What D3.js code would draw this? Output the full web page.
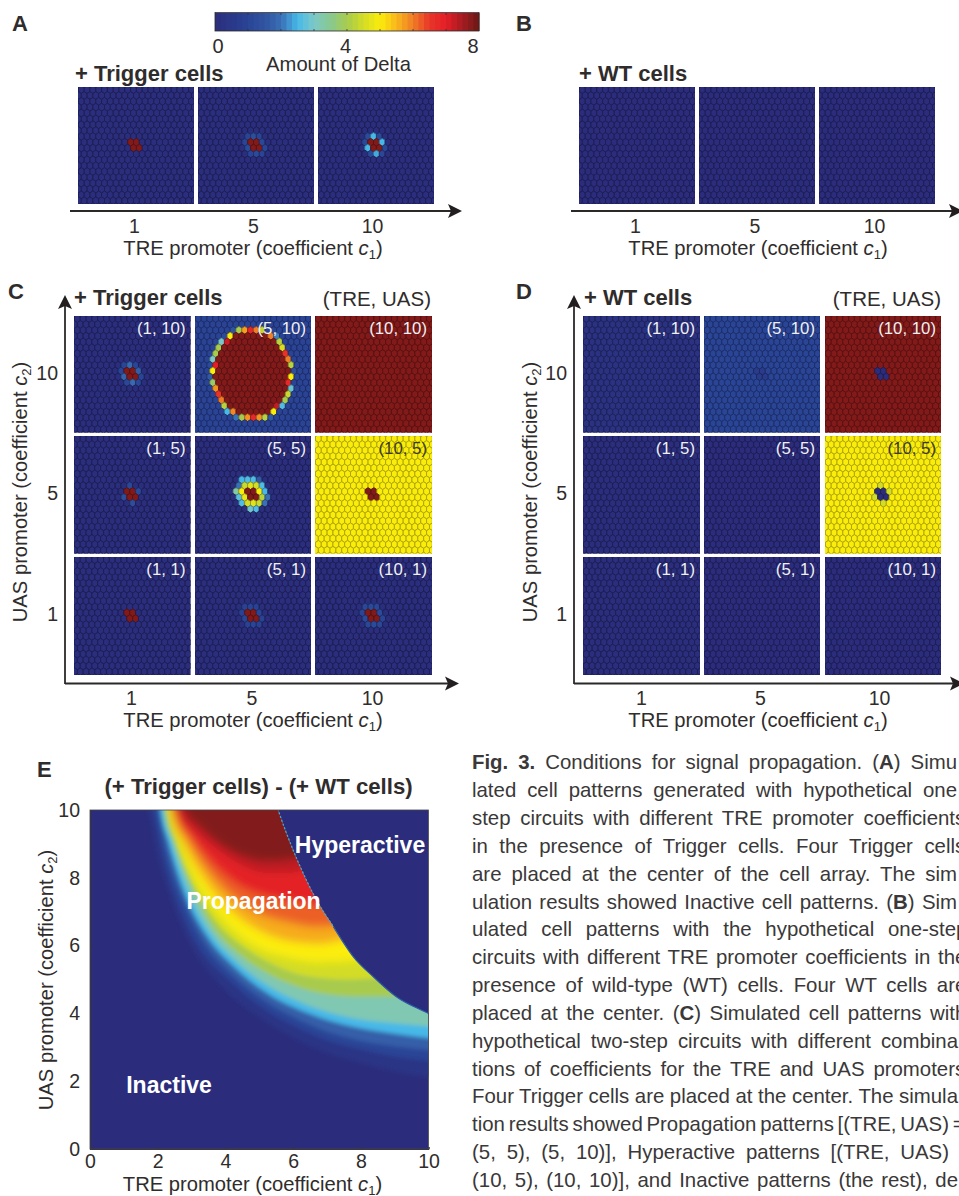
<!DOCTYPE html>
<html>
<head>
<meta charset="utf-8">
<script src="https://cdn.jsdelivr.net/npm/d3@7"></script>
<style>
html, body { margin: 0; padding: 0; background: #fff; overflow: hidden; }
svg { display: block; }
text { font-family: "Liberation Sans", Arial, sans-serif; fill: #2f2c2c; }
</style>
</head>
<body>
<svg id="fig" width="959" height="1196"></svg>
<script>
// colour bar stops
const deltaStops = [0, 1, 1.5, 2, 2.5, 3, 3.5, 4, 4.5, 5, 5.5, 6, 6.5, 7, 7.5, 8];
const deltaColors = ["#2b2d7c", "#2a4496", "#30539f", "#3a70b5", "#47b8e8", "#7cc8c9", "#87c98f", "#a8cb4e",
    "#d3dc26", "#fbed0b", "#f8b61d", "#ef7d25", "#e8362a", "#e31e26", "#a51d21", "#6a1815"];
const barTicks = [0, 4, 8];

const tre = ["1", "5", "10"];
const uas = ["10", "5", "1"];

// cell values, as [row, column, amount]
const triggerCells = [[9, 9], [9, 10], [10, 9], [10, 10]];
const a5Ring = [[8,8,1],[8,9,1.3],[8,10,1],[9,8,1],[9,11,1.1],[10,8,1.2],[10,11,1],[11,9,1],[11,10,1.2],[11,11,1]];
const a10Ring = [[8,8,1.2],[8,9,2.5],[8,10,1.2],[9,8,1.1],[9,11,2.5],[10,8,2.5],[10,11,1.1],[11,9,1.2],[11,10,2.4],[11,11,1.1]];
const c1x10Ring = [[8,8,1],[8,9,1.9],[8,10,1],[9,8,1],[9,11,1.7],[10,8,1.8],[10,11,1],[11,9,1.1],[11,10,1.9],[11,11,1.1]];
const c1x5Ring = [[8,9,1.1],[9,11,1.2],[10,8,1.3],[11,10,1.3]];
const c5x1Ring = [[8,8,.9],[8,9,1],[8,10,.9],[9,8,.9],[9,11,1],[10,8,1],[10,11,.9],[11,9,.9],[11,10,1],[11,11,.9]];
const c10x1Ring = [[8,8,1.1],[8,9,1.2],[8,10,1.1],[9,8,1],[9,11,1.2],[10,8,1.2],[10,11,1],[11,9,1.1],[11,10,1.2],[11,11,1.1]];
const c5x5Ring = [[8,8,4.4],[8,9,4.7],[8,10,4.5],[9,8,5],[9,11,5],[10,8,4.8],[10,11,4.2],[11,9,4.5],[11,10,4.7],[11,11,4.4],
    [7,8,2.5],[7,9,2.6],[7,10,2.6],[7,11,1.6],[8,7,2],[8,11,2.6],[9,7,3.3],[9,12,2.5],[10,7,2.7],[10,12,2],[11,8,2.6],[11,12,2],[12,9,2.9],[12,10,2.6]];
const d10x5Ring = [[8,9,4.5],[9,11,4.5],[10,8,4.5],[11,10,4.5]];
const c5x10Front = [[2,6,1.5],[2,7,4],[2,8,5.7],[2,9,6.8],[2,10,6],[2,11,4.3],[3,5,1.2],[3,6,5],[3,13,6],[3,14,2.1],
    [4,4,3],[4,5,7.2],[4,14,4.2],[5,4,4],[5,15,4.6],[6,3,4],[6,15,6.6],[7,3,3],[7,16,6],[8,2,1.2],[8,3,7],[8,16,4.2],
    [9,3,5],[9,17,1.3],[10,2,1.6],[10,16,5],[11,3,3.8],[11,16,6.8],[12,3,5.8],[12,16,2.8],[13,4,6.6],[13,16,4.4],
    [14,4,6],[14,15,4],[15,5,4.2],[15,14,7.3],[15,15,2.6],[16,5,2.5],[16,6,5.9],[16,13,5],[17,7,2],[17,8,4],[17,9,5.8],[17,10,6.8],[17,11,5.8],[17,12,4.2],[17,13,1.6]];
// [row, first column, last column] of the dark red inside of the (5, 10) ring
const c5x10Inside = [[3,7,12],[4,6,13],[5,5,14],[6,4,14],[7,4,15],[8,4,15],[9,4,16],[10,3,15],[11,4,15],[12,4,15],[13,5,15],[14,5,14],[15,6,13],[16,7,12]];

const triggerAmount = 7.8;
const panelsC = [
    { label: "(1, 10)", bg: .05, cells: c1x10Ring, cluster: triggerAmount },
    { label: "(5, 10)", bg: .95, inside: c5x10Inside, cells: c5x10Front },
    { label: "(10, 10)", bg: 7.8 },
    { label: "(1, 5)", bg: .05, cells: c1x5Ring, cluster: triggerAmount },
    { label: "(5, 5)", bg: .05, cells: c5x5Ring, cluster: triggerAmount },
    { label: "(10, 5)", bg: 5, cluster: triggerAmount, dark: true },
    { label: "(1, 1)", bg: .05, cluster: triggerAmount },
    { label: "(5, 1)", bg: .05, cells: c5x1Ring, cluster: triggerAmount },
    { label: "(10, 1)", bg: .05, cells: c10x1Ring, cluster: triggerAmount }
];
const panelsD = [
    { label: "(1, 10)", bg: .2 },
    { label: "(5, 10)", bg: 1, cluster: .6 },
    { label: "(10, 10)", bg: 7.8, cluster: 0 },
    { label: "(1, 5)", bg: .05 },
    { label: "(5, 5)", bg: 0 },
    { label: "(10, 5)", bg: 5, cells: d10x5Ring, cluster: 0, dark: true },
    { label: "(1, 1)", bg: .05 },
    { label: "(5, 1)", bg: 0 },
    { label: "(10, 1)", bg: 0 }
];
const panelsA = [
    { bg: .05, cluster: triggerAmount },
    { bg: .05, cells: a5Ring, cluster: triggerAmount },
    { bg: .05, cells: a10Ring, cluster: triggerAmount }
];
const panelsB = [{ bg: 0 }, { bg: 0 }, { bg: 0 }];

// panel E: upper border of the coloured zone and contour lines, as [c1, c2]
const heatEdge = [[5.4,10.5],[5.56,10],[6,8.82],[6.3,8.13],[6.69,7.35],[7.19,6.56],[7.78,5.67],[8.37,5.08],[9.05,4.49],[10,4],[10.2,3.9]];
const heatLevels = [.4, 1, 1.7, 2.5, 3.2, 4, 4.5, 5, 5.6, 6.2, 6.9, 7.3, 7.8];
const heatContours = [
    [[1.55,10.5],[1.72,10],[2,8.7],[2.5,7.1],[3,6],[4,4.7],[5,3.9],[6,3.3],[7,2.85],[8,2.55],[9,2.3],[10.2,2.1]],
    [[1.75,10.5],[1.87,10],[2.2,8.5],[2.7,7],[3.2,6],[4.2,4.9],[5.2,4.1],[6.2,3.55],[7.2,3.15],[8.2,2.9],[9.2,2.7],[10.2,2.6]],
    [[1.93,10.5],[2,10],[2.25,8.8],[2.8,7.2],[3.3,6.2],[4.2,5.15],[5.2,4.35],[6.2,3.8],[7.2,3.4],[8.2,3.15],[9.2,3],[10.2,2.9]],
    [[2.02,10.5],[2.08,10],[2.3,9.1],[2.85,7.4],[3.44,6.3],[4.23,5.4],[5.2,4.62],[6.4,4.02],[7.8,3.6],[9,3.4],[10.2,3.25]],
    [[2.12,10.5],[2.17,10],[2.4,9.1],[2.95,7.5],[3.5,6.45],[4.3,5.55],[5.2,4.85],[6.4,4.25],[7.8,3.85],[9,3.7],[10.2,3.6]],
    [[2.2,10.5],[2.25,10],[2.5,9.1],[3.05,7.65],[3.6,6.6],[4.4,5.75],[5.3,5.15],[6.4,4.7],[7.8,4.5],[9,4.5],[10.2,4.6]],
    [[2.22,10.5],[2.3,10],[2.55,9.1],[3.1,7.75],[3.7,6.75],[4.5,6],[5.4,5.45],[6.4,5.1],[7.6,5],[9,5.1],[10.2,5.3]],
    [[2.27,10.5],[2.33,10],[2.66,9],[3.25,7.7],[3.85,6.85],[4.82,6],[5.8,5.65],[6.8,5.5],[7.8,5.55],[10.2,6]],
    [[2.33,10.5],[2.38,10],[2.8,8.95],[3.45,7.85],[4.1,7.1],[5,6.45],[5.8,6.15],[6.8,6.05],[7.4,6.15],[10.2,7]],
    [[2.4,10.5],[2.45,10],[2.9,9.1],[3.5,8.2],[4.2,7.45],[5,6.95],[5.8,6.7],[6.7,6.55],[7.4,6.6],[10.2,8]],
    [[2.47,10.5],[2.52,10],[3,9.2],[3.6,8.45],[4.3,7.85],[5.2,7.45],[6,7.3],[6.9,7.2],[10.2,8.5]],
    [[2.55,10.5],[2.6,10],[3.1,9.4],[3.75,8.85],[4.45,8.4],[5.2,8.15],[5.9,8.15],[6.5,8.3],[10.2,9.5]],
    [[2.75,10.5],[2.8,10],[3.2,9.55],[3.85,9],[4.5,8.65],[5.2,8.5],[5.9,8.55],[6.5,8.7],[10.2,10.5]]
];
const heatTicks = [0, 2, 4, 6, 8, 10];
const heatLabels = [["Hyperactive", 6.05, 8.72], ["Propagation", 2.85, 7.07], ["Inactive", 1.07, 1.65]];

// caption: visible part of each line, then the letter cut by the page edge
const captionLines = [
    "**Fig. 3.** Conditions for signal propagation. (**A**) Simu",
    "lated cell patterns generated with hypothetical one",
    "step circuits with different TRE promoter coefficient",
    "in the presence of Trigger cells. Four Trigger cell",
    "are placed at the center of the cell array. The sim",
    "ulation results showed Inactive cell patterns. (**B**) Sim",
    "ulated cell patterns with the hypothetical one-ste",
    "circuits with different TRE promoter coefficients in th",
    "presence of wild-type (WT) cells. Four WT cells ar",
    "placed at the center. (**C**) Simulated cell patterns wit",
    "hypothetical two-step circuits with different combina",
    "tions of coefficients for the TRE and UAS promoter",
    "Four Trigger cells are placed at the center. The simula",
    "tion results showed Propagation patterns [(TRE, UAS)",
    "(5, 5), (5, 10)], Hyperactive patterns [(TRE, UAS)",
    "(10, 5), (10, 10)], and Inactive patterns (the rest), de"
];
const captionCut = ["", "", "s", "s", "", "", "p", "e", "e", "h", "", "s", "", " =", " =", ""];
const captionEnds = [957, 957, 955, 955, 957, 957, 956, 955, 955, 955, 958, 955, 958, 949, 949, 958];

const svg = d3.select("#fig");
const defs = svg.append("defs");
const colorScale = d3.scaleLinear().domain(deltaStops).range(deltaColors).interpolate(d3.interpolateRgb).clamp(true);

function label(x, y, str, size, opts = {}) {
    return svg.append("text").attr("x", x).attr("y", y).attr("font-size", size)
        .attr("font-weight", opts.bold ? "bold" : null)
        .attr("text-anchor", opts.anchor || "start")
        .style("fill", opts.fill || null)
        .attr("transform", opts.rotate ? `rotate(${opts.rotate} ${x} ${y})` : null)
        .text(str);
}

function coefTitle(x, y, str, sub, opts = {}) {
    const t = label(x, y, str, 20.2, { anchor: "middle", rotate: opts.rotate });
    t.append("tspan").attr("font-style", "italic").text(" c");
    t.append("tspan").attr("font-size", 13).attr("dy", 4).text(sub);
    t.append("tspan").attr("dy", -4).text(")");
}

// ---- hexagon cell panels
const hexW = 5.8, hexH = 7.7;
const hexPath = d3.line()([[0, -hexH / 2], [hexW / 2, -hexH / 4], [hexW / 2, hexH / 4], [0, hexH / 2], [-hexW / 2, hexH / 4], [-hexW / 2, -hexH / 4]]) + "Z";
const rows = d3.range(-1, 21), cols = d3.range(-1, 21);
let clipCount = 0;

function drawPanel(p, x0, x1, y0, y1) {
    const xCell = d3.scaleLinear().domain([0, 20]).range([x0, x1]);
    const yCell = d3.scaleLinear().domain([0, 20]).range([y0, y1]);
    const amount = new Map();
    (p.inside || []).forEach(([r, from, to]) => d3.range(from, to + 1).forEach(c => amount.set(r + "," + c, triggerAmount)));
    (p.cells || []).forEach(([r, c, v]) => amount.set(r + "," + c, v));
    if (p.cluster !== undefined) triggerCells.forEach(([r, c]) => amount.set(r + "," + c, p.cluster));

    const id = "panel" + (clipCount++);
    defs.append("clipPath").attr("id", id).append("rect").attr("x", x0).attr("y", y0).attr("width", x1 - x0).attr("height", y1 - y0);
    const g = svg.append("g").attr("clip-path", `url(#${id})`);
    g.append("rect").attr("x", x0).attr("y", y0).attr("width", x1 - x0).attr("height", y1 - y0).attr("fill", d3.color(colorScale(p.bg)).darker(.45));

    const grid = d3.cross(rows, cols).map(([r, c]) => ({ r, c, v: amount.has(r + "," + c) ? amount.get(r + "," + c) : p.bg }));
    g.selectAll("path").data(grid).enter().append("path")
        .attr("d", hexPath)
        .attr("transform", d => `translate(${xCell(d.c + .07 + (d.r % 2 === 0 ? .5 : 0))},${yCell(d.r + .45)})`)
        .attr("fill", d => colorScale(d.v))
        .attr("stroke", d => d3.color(colorScale(d.v)).darker(1.1))
        .attr("stroke-width", .85);

    if (p.label) {
        label(x1 - 5, y0 + 17.7, p.label, 16.8, { anchor: "end", fill: p.dark ? "#3a3a2a" : "#f0f0f4" });
    }
}

function panelGrid(list, xs, ys) {
    list.forEach((p, i) => {
        const [xa, xb] = xs[i % 3];
        const [ya, yb] = ys[Math.floor(i / 3)];
        drawPanel(p, xa, xb, ya, yb);
    });
}

panelGrid(panelsA, [[78, 194], [198, 314], [318, 434]], [[87, 204]]);
panelGrid(panelsB, [[579, 695], [699, 815], [819, 935]], [[87, 204]]);
const rowsCD = [[316, 432.5], [436, 553.5], [557, 675]];
panelGrid(panelsC, [[74, 190.5], [195, 311], [315, 432]], rowsCD);
panelGrid(panelsD, [[583, 700], [704, 820], [825, 941]], rowsCD);

// ---- arrows and tick labels
function arrowX(x0, x1, y) {
    svg.append("line").attr("x1", x0).attr("x2", x1 - 10).attr("y1", y).attr("y2", y).attr("stroke", "#2b2828").attr("stroke-width", 1.8);
    svg.append("path").attr("d", d3.line()([[x1, y], [x1 - 14, y - 7], [x1 - 11, y], [x1 - 14, y + 7]]) + "Z").attr("fill", "#231f20");
}
function arrowY(x, y0, y1) {
    svg.append("line").attr("x1", x).attr("x2", x).attr("y1", y0).attr("y2", y1 + 10).attr("stroke", "#2b2828").attr("stroke-width", 1.8);
    svg.append("path").attr("d", d3.line()([[x, y1], [x - 7, y1 + 14], [x, y1 + 11], [x + 7, y1 + 14]]) + "Z").attr("fill", "#231f20");
}

function catAxis(scale, y) {
    const g = svg.append("g").attr("transform", `translate(0,${y})`).call(d3.axisBottom(scale).tickSize(0).tickPadding(0));
    g.select(".domain").remove();
    g.selectAll("text").attr("font-size", 19.5).attr("font-family", null).attr("dy", 0).attr("y", 0);
}
function catAxisY(scale, x) {
    const g = svg.append("g").attr("transform", `translate(${x},0)`).call(d3.axisLeft(scale).tickSize(0).tickPadding(0));
    g.select(".domain").remove();
    g.selectAll("text").attr("font-size", 19.5).attr("font-family", null).attr("x", 0);
}

arrowX(70, 462, 211);
arrowX(571, 963, 211);
catAxis(d3.scalePoint().domain(tre).range([134, 372]), 233);
catAxis(d3.scalePoint().domain(tre).range([635, 874]), 233);
coefTitle(253, 255, "TRE promoter (coefficient", "1");
coefTitle(758, 255, "TRE promoter (coefficient", "1");

arrowX(65, 459, 683.5);
arrowY(65, 684, 295);
arrowX(574, 964, 683.5);
arrowY(574, 684, 295);
catAxis(d3.scalePoint().domain(tre).range([131, 372]), 705);
catAxis(d3.scalePoint().domain(tre).range([641, 879]), 705);
catAxisY(d3.scalePoint().domain(uas).range([373, 614]), 58);
catAxisY(d3.scalePoint().domain(uas).range([373, 614]), 567);
coefTitle(253, 727, "TRE promoter (coefficient", "1");
coefTitle(758, 727, "TRE promoter (coefficient", "1");
coefTitle(27, 492, "UAS promoter (coefficient", "2", { rotate: -90 });
coefTitle(537, 492, "UAS promoter (coefficient", "2", { rotate: -90 });

// ---- colour bar
const barX = d3.scaleLinear().domain([0, 8]).range([215, 479]);
const barCells = d3.range(0, 8, 1 / 6);
svg.selectAll(".bar").data(barCells).enter().append("rect").attr("class", "bar")
    .attr("x", d => barX(d)).attr("y", 13).attr("width", barX(1 / 6) - barX(0) + .5).attr("height", 18)
    .attr("fill", d => colorScale(d + 1 / 12));
svg.append("rect").attr("x", 215).attr("y", 12.5).attr("width", 264).attr("height", 18.5).attr("fill", "none").attr("stroke", "#2b2828").attr("stroke-width", .8);
d3.range(1, 8).forEach(v => {
    svg.append("line").attr("x1", barX(v)).attr("x2", barX(v)).attr("y1", 13).attr("y2", 15).attr("stroke", "#2b2828").attr("stroke-width", .7);
    svg.append("line").attr("x1", barX(v)).attr("x2", barX(v)).attr("y1", 29).attr("y2", 31).attr("stroke", "#2b2828").attr("stroke-width", .7);
});
const barLabelScale = d3.scaleLinear().domain([0, 8]).range([218, 473]);
barTicks.forEach(v => label(barLabelScale(v), 53, v, 20, { anchor: "middle" }));
label(338.5, 71, "Amount of Delta", 20.2, { anchor: "middle" });

// ---- titles
label(12, 31, "A", 22, { bold: true });
label(516, 31, "B", 22, { bold: true });
label(8, 299, "C", 22, { bold: true });
label(516, 299, "D", 22, { bold: true });
label(37, 777, "E", 22, { bold: true });
label(75, 81, "+ Trigger cells", 22, { bold: true });
label(579, 81, "+ WT cells", 22, { bold: true });
label(74, 305, "+ Trigger cells", 22, { bold: true });
label(584, 305, "+ WT cells", 22, { bold: true });
label(431, 306, "(TRE, UAS)", 20.5, { anchor: "end" });
label(941, 306, "(TRE, UAS)", 20.5, { anchor: "end" });
label(258.5, 794, "(+ Trigger cells) - (+ WT cells)", 22.2, { bold: true, anchor: "middle" });

// ---- panel E heat map
const xE = d3.scaleLinear().domain([0, 10]).range([90, 428.5]);
const yE = d3.scaleLinear().domain([0, 10]).range([1149, 810]);
const aboveCurve = d3.area().x(d => xE(d[0])).y0(d => yE(d[1])).y1(yE(11)).curve(d3.curveMonotoneX);
const belowEdge = d3.area().x(d => xE(d[0])).y0(d => yE(d[1])).y1(yE(-1)).curve(d3.curveMonotoneX);

defs.append("clipPath").attr("id", "plotE").append("rect").attr("x", xE(0)).attr("y", yE(10)).attr("width", xE(10) - xE(0)).attr("height", yE(0) - yE(10));
const edgeClip = defs.append("clipPath").attr("id", "underEdge");
edgeClip.append("path").attr("d", belowEdge(heatEdge));
edgeClip.append("rect").attr("x", xE(-1)).attr("y", yE(11)).attr("width", xE(5.45) - xE(-1)).attr("height", yE(-1) - yE(11));
// the outer bands are narrow, the inner ones wide, so they take different blur
[["softLow", 2], ["softHigh", 4.5]].forEach(([id, dev]) => {
    defs.append("filter").attr("id", id).attr("x", "-10%").attr("y", "-10%").attr("width", "120%").attr("height", "120%")
        .append("feGaussianBlur").attr("stdDeviation", dev);
});

const plotE = svg.append("g").attr("clip-path", "url(#plotE)");
plotE.append("rect").attr("x", xE(0)).attr("y", yE(10)).attr("width", xE(10) - xE(0)).attr("height", yE(0) - yE(10)).attr("fill", colorScale(0));
const heatClip = plotE.append("g").attr("clip-path", "url(#underEdge)");
const heatPairs = heatContours.map((line, i) => ({ line, level: heatLevels[i] }));
heatClip.append("g").attr("filter", "url(#softLow)").selectAll("path").data(heatPairs.filter(d => d.level <= 4.5)).enter().append("path")
    .attr("d", d => aboveCurve(d.line))
    .attr("fill", d => colorScale(d.level));
heatClip.append("g").attr("filter", "url(#softHigh)").selectAll("path").data(heatPairs.filter(d => d.level > 4.5)).enter().append("path")
    .attr("d", d => aboveCurve(d.line))
    .attr("fill", d => colorScale(d.level));
const edgeLine = d3.line().x(d => xE(d[0])).y(d => yE(d[1])).curve(d3.curveMonotoneX);
plotE.append("path").attr("d", edgeLine(heatEdge.filter(d => d[1] < 7))).attr("fill", "none").attr("stroke", "#2c5aa8").attr("stroke-width", 1.2);
plotE.append("path").attr("d", edgeLine(heatEdge.filter(d => d[1] > 6.5))).attr("fill", "none").attr("stroke", "#3fa7dc").attr("stroke-width", 1.3).attr("stroke-dasharray", "2 2");

const axisEx = svg.append("g").attr("transform", `translate(0,${yE(0)})`).call(d3.axisBottom(xE).tickValues(heatTicks).tickSize(-2).tickPadding(0));
const axisEy = svg.append("g").attr("transform", `translate(${xE(0)},0)`).call(d3.axisLeft(yE).tickValues(heatTicks).tickSize(-2).tickPadding(0));
axisEx.selectAll("text").attr("font-size", 19.5).attr("font-family", null).attr("y", 19).attr("dy", 0);
axisEy.selectAll("text").attr("font-size", 19.5).attr("font-family", null).attr("x", -10);
axisEx.selectAll(".domain, line").attr("stroke", "#333");
axisEy.selectAll(".domain, line").attr("stroke", "#333");
svg.append("rect").attr("x", xE(0)).attr("y", yE(10)).attr("width", xE(10) - xE(0)).attr("height", yE(0) - yE(10)).attr("fill", "none").attr("stroke", "#444").attr("stroke-width", .8);
coefTitle(252.5, 1191, "TRE promoter (coefficient", "1");
coefTitle(53, 980, "UAS promoter (coefficient", "2", { rotate: -90 });

heatLabels.forEach(([str, c1, c2]) => label(xE(c1), yE(c2), str, 23, { bold: true, fill: "#fff" }));

// ---- caption, justified by word spacing
const captionY = d3.scaleLinear().domain([0, 15]).range([769.3, 1187]);
captionLines.forEach((line, i) => {
    const t = svg.append("text").attr("x", 472).attr("y", captionY(i)).attr("font-size", 20.4).style("fill", "#3a3838");
    line.split("**").forEach((part, k) => {
        t.append("tspan").attr("font-weight", k % 2 ? "bold" : null).text(part);
    });
    const gaps = line.split(" ").length - 1;
    const natural = t.node().getComputedTextLength();
    t.attr("word-spacing", (captionEnds[i] - 472 - natural) / gaps);
    if (captionCut[i]) t.append("tspan").text(captionCut[i]);
});
</script>
</body>
</html>
